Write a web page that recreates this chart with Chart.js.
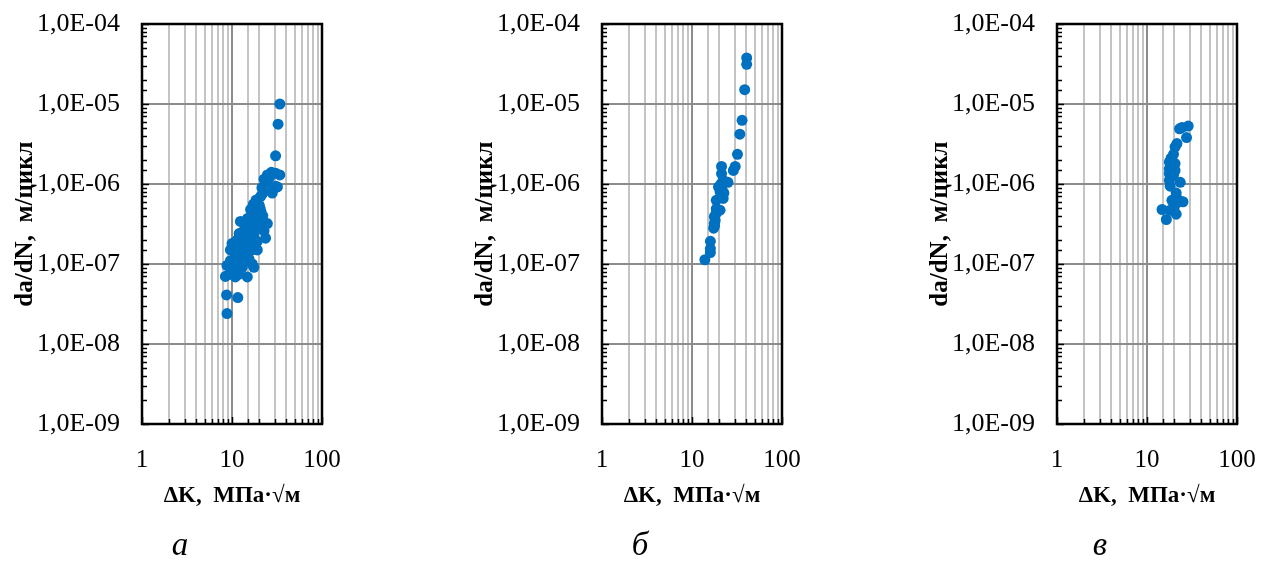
<!DOCTYPE html>
<html>
<head>
<meta charset="utf-8">
<title>da/dN – ΔK</title>
<script src="https://cdn.jsdelivr.net/npm/chart.js@4.4.0/dist/chart.umd.min.js"></script>
<style>
    body { margin: 0; background: #fff; width: 1263px; height: 568px; position: relative; overflow: hidden; }
    .panel { position: absolute; top: 0; }
    .panel canvas { display: block; }
    .letter { position: absolute; top: 526px; width: 60px; text-align: center;
              font: italic 33px "Liberation Serif", "Times New Roman", serif; color: #000; }
</style>
</head>
<body>
<div class="panel" style="left:0px"><canvas id="chartA" width="345" height="568"></canvas></div>
<div class="panel" style="left:460px"><canvas id="chartB" width="345" height="568"></canvas></div>
<div class="panel" style="left:915px"><canvas id="chartC" width="345" height="568"></canvas></div>
<div class="letter" style="left:150px">а</div>
<div class="letter" style="left:610px">б</div>
<div class="letter" style="left:1070px">в</div>

<script>
// ΔK, MPa·√m  and  da/dN, m/cycle  for the three series
const kA = [34.0, 32.5, 30.5, 30.6, 34.0, 27.4, 24.7, 22.7, 24.0, 30.6, 28.0, 32.0, 26.0, 28.0, 21.8,
    20.8, 17.3, 19.0, 16.1, 19.1, 17.0, 12.4, 14.8, 24.7, 22.7, 13.5, 17.5, 15.5, 11.4, 14.8,
    23.6, 19.0, 21.0, 18.0, 20.0, 16.0, 10.5, 9.6, 13.0, 16.8, 19.1, 12.4, 14.5, 11.4, 9.6,
    14.1, 16.8, 17.5, 13.0, 8.8, 10.5, 9.2, 8.45, 10.9, 14.8, 12.0, 10.4, 12.0, 15.5, 11.0,
    8.7, 11.6, 8.8, 22.0, 20.5, 18.5, 13.8, 12.8, 10.0, 21.5,
    12.0, 13.0, 14.0, 15.0, 16.0, 13.0, 12.5, 11.5, 10.8, 9.8,
    15.0, 17.5, 18.5, 20.0, 18.0, 14.0, 12.0, 16.5, 19.5, 21.0];
const rateA = [1.0e-5, 5.6e-6, 2.25e-6, 1.36e-6, 1.3e-6, 1.4e-6, 1.3e-6, 1.15e-6, 1.05e-6, 9.4e-7, 8.3e-7, 9.2e-7, 1.2e-6, 7.7e-7, 7.6e-7,
    7.0e-7, 5.6e-7, 5.5e-7, 4.8e-7, 4.5e-7, 4.2e-7, 3.4e-7, 3.7e-7, 3.2e-7, 2.6e-7, 2.6e-7, 2.4e-7, 2.2e-7, 2.0e-7, 2.0e-7,
    2.1e-7, 1.9e-7, 2.8e-7, 3.0e-7, 3.6e-7, 3.2e-7, 1.6e-7, 1.5e-7, 1.5e-7, 1.5e-7, 1.5e-7, 1.7e-7, 1.3e-7, 1.2e-7, 1.1e-7,
    1.1e-7, 1.0e-7, 9.1e-8, 9.1e-8, 9.6e-8, 8.3e-8, 7.4e-8, 7.0e-8, 6.9e-8, 6.9e-8, 7.5e-8, 1.0e-7, 1.0e-7, 1.15e-7, 1.35e-7,
    4.1e-8, 3.8e-8, 2.4e-8, 4.0e-7, 5.0e-7, 6.3e-7, 1.8e-7, 1.25e-7, 1.8e-7, 9.0e-7,
    1.4e-7, 1.8e-7, 1.6e-7, 2.5e-7, 2.0e-7, 2.2e-7, 1.1e-7, 1.6e-7, 1.2e-7, 9.0e-8,
    1.4e-7, 3.5e-7, 4.0e-7, 5.5e-7, 2.0e-7, 3.0e-7, 2.4e-7, 2.8e-7, 3.2e-7, 4.5e-7];

const kB = [40.5, 40.5, 38.5, 36.0, 34.0, 32.0, 30.2, 28.8, 21.3, 21.3, 22.2, 25.1, 19.7, 21.7, 22.6,
    21.3, 18.6, 22.2, 20.5, 18.6, 17.7, 17.7, 17.4, 18.1, 16.0, 16.0, 16.0, 13.9, 21.0, 20.5,
    17.8, 18.4];
const rateB = [3.76e-5, 3.13e-5, 1.51e-5, 6.25e-6, 4.2e-6, 2.35e-6, 1.66e-6, 1.48e-6, 1.66e-6, 1.35e-6, 1.11e-6, 1.05e-6, 9.2e-7, 8.3e-7, 7.7e-7,
    6.9e-7, 6.25e-7, 6.6e-7, 4.7e-7, 4.9e-7, 3.9e-7, 3.2e-7, 2.8e-7, 3.5e-7, 1.92e-7, 1.56e-7, 1.39e-7, 1.13e-7, 1.0e-6, 8.0e-7,
    3.0e-7, 4.2e-7];

const kC = [28.7, 24.5, 23.0, 27.5, 21.5, 20.5, 19.7, 17.7, 20.5, 17.7, 20.5, 17.7, 19.7, 17.7, 23.4,
    18.1, 21.1, 18.9, 25.1, 21.5, 14.7, 18.1, 21.1, 16.4, 19.5, 18.5, 22.5, 20.0];
const rateC = [5.3e-6, 5.1e-6, 4.9e-6, 3.8e-6, 3.2e-6, 2.9e-6, 2.35e-6, 1.88e-6, 1.8e-6, 1.55e-6, 1.48e-6, 1.35e-6, 1.28e-6, 1.11e-6, 1.05e-6,
    9.4e-7, 7.7e-7, 6.25e-7, 6.0e-7, 5.8e-7, 4.8e-7, 4.7e-7, 4.2e-7, 3.6e-7, 1.6e-6, 2.1e-6, 6.3e-7, 5.0e-7];

// axis ranges and labels
const kRange = [1, 100];
const rateRange = [1e-9, 1e-4];
const kLabels = [1, 10, 100];
const xTitle = 'ΔK,  МПа·√м';
const yTitle = 'da/dN,  м/цикл';

const serif = '"Liberation Serif", "Times New Roman", serif';
const pointColor = '#0070C0';

function isDecade(v) {
    const e = Math.log10(v);
    return Math.abs(e - Math.round(e)) < 1e-6;
}

// 1e-7 -> "1,0E-07"
function sciLabel(v) {
    const e = Math.round(Math.log10(v));
    const sign = e < 0 ? '-' : '+';
    return '1,0E' + sign + String(Math.abs(e)).padStart(2, '0');
}

// black frame round the plot area plus short inner tick marks
const frameAndTicks = {
    id: 'frameAndTicks',
    afterDraw(chart) {
        const { ctx, chartArea: a, scales } = chart;
        ctx.save();
        ctx.strokeStyle = '#000';
        ctx.lineWidth = 1.5;
        ctx.beginPath();
        scales.y.ticks.forEach(t => {
            const py = Math.round(scales.y.getPixelForValue(t.value)) + 0.5;
            const len = isDecade(t.value) ? 7 : 5;
            ctx.moveTo(a.left, py);
            ctx.lineTo(a.left + len, py);
        });
        scales.x.ticks.forEach(t => {
            const px = Math.round(scales.x.getPixelForValue(t.value)) + 0.5;
            const len = isDecade(t.value) ? 7 : 5;
            ctx.moveTo(px, a.bottom);
            ctx.lineTo(px, a.bottom - len);
        });
        ctx.stroke();
        ctx.lineWidth = 2.5;
        ctx.strokeRect(a.left, a.top, a.right - a.left, a.bottom - a.top);
        ctx.restore();
    }
};

// the gap between axis and labels comes from an invisible tick length,
// so the tick padding does not push the plot area inwards
function makeChart(id, k, rate) {
    const points = k.map((v, i) => ({ x: v, y: rate[i] }));
    return new Chart(id, {
        type: 'scatter',
        data: {
            datasets: [{
                data: points,
                backgroundColor: pointColor,
                borderColor: pointColor,
                borderWidth: 0,
                pointRadius: 5.5,
                pointHoverRadius: 5.5,
            }],
        },
        options: {
            responsive: false,
            animation: false,
            layout: { padding: { top: 24, right: 23, bottom: 54, left: 0 } },
            plugins: { legend: { display: false }, tooltip: { enabled: false } },
            scales: {
                x: {
                    type: 'logarithmic',
                    min: kRange[0],
                    max: kRange[1],
                    afterFit: s => { s.height = 90; },
                    border: { display: false },
                    grid: {
                        drawTicks: true,
                        tickLength: 21,
                        tickColor: 'rgba(0,0,0,0)',
                        lineWidth: 2,
                        color: c => isDecade(c.tick.value) ? '#8c8c8c' : '#c4c4c4',
                    },
                    ticks: {
                        autoSkip: false,
                        maxRotation: 0,
                        padding: 0,
                        color: '#000',
                        font: { family: serif, size: 25 },
                        callback: v => kLabels.some(l => Math.abs(l - v) < 1e-9) ? String(v) : '',
                    },
                    title: {
                        display: true,
                        text: xTitle,
                        color: '#000',
                        padding: { top: 0, bottom: 4 },
                        font: { family: serif, size: 23, weight: 'bold' },
                    },
                },
                y: {
                    type: 'logarithmic',
                    min: rateRange[0],
                    max: rateRange[1],
                    afterFit: s => { s.width = 142; },
                    border: { display: false },
                    grid: {
                        drawTicks: true,
                        tickLength: 22,
                        tickColor: 'rgba(0,0,0,0)',
                        lineWidth: 2,
                        color: c => isDecade(c.tick.value) ? '#8c8c8c' : 'rgba(0,0,0,0)',
                    },
                    ticks: {
                        autoSkip: false,
                        padding: 0,
                        color: '#000',
                        font: { family: serif, size: 26 },
                        callback: v => isDecade(v) ? sciLabel(v) : '',
                    },
                    title: {
                        display: true,
                        text: yTitle,
                        color: '#000',
                        padding: { top: 11, bottom: 0 },
                        font: { family: serif, size: 25, weight: 'bold' },
                    },
                },
            },
        },
        plugins: [frameAndTicks],
    });
}

makeChart('chartA', kA, rateA);
makeChart('chartB', kB, rateB);
makeChart('chartC', kC, rateC);
</script>
</body>
</html>
